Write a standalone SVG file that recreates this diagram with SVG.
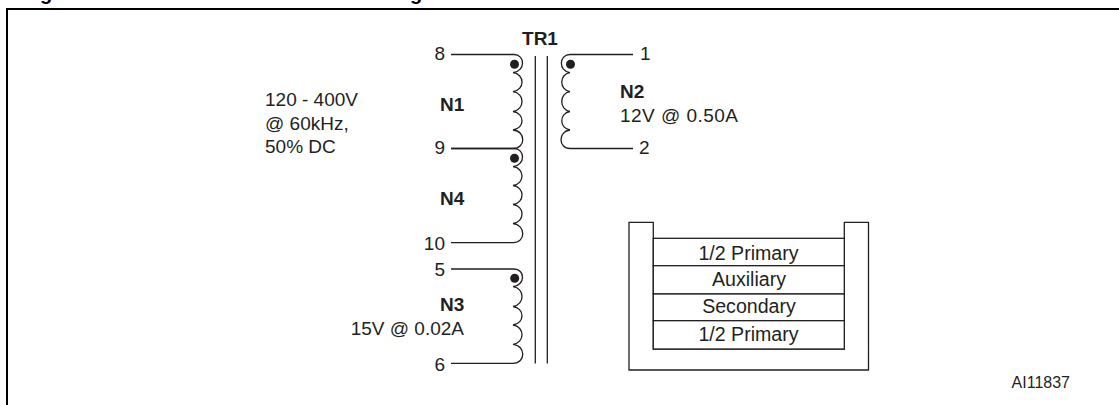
<svg xmlns="http://www.w3.org/2000/svg" width="1119" height="405" viewBox="0 0 1119 405">
<style>
text{font-family:"Liberation Sans",Arial,sans-serif;font-size:19px;fill:#231f20}
.b{font-weight:bold}
.m{text-anchor:middle}
.e{text-anchor:end}
.t{font-size:19.6px}
.w{fill:none;stroke:#231f20;stroke-width:1.3}
.f{fill:none;stroke:#000;stroke-width:2}
.d{fill:#231f20}
.r{fill:#fff;stroke:#231f20;stroke-width:1.3}
</style>
<rect width="1119" height="405" fill="#fff"/>
<g id="frame"><path class="f" d="M7 405V9H1119"/></g>
<g id="title"><text x="46" y="0" class="b m" style="font-size:20px;fill:#000">g</text><text x="416" y="0" class="b m" style="font-size:20px;fill:#000">g</text></g>
<g id="connectors">
<path class="w" d="M451 54.500H514C525 54.500 526 71 513 72.700C525 74 525 90 513 91.700C525 93 525 110 513 111.500C525 113 525 128.500 513 130C526 131 526 148.500 513 148.500H451"/>
<path class="w" d="M451 148.500H514C525 148.500 526 165 513 166.700C525 168 525 184 513 185.500C525 187 525 203 513 204.500C525 206 525 222 513 223.500C526 225 526 242.700 513 242.700H451"/>
<path class="w" d="M451 269H514C525 269 526 285 513 286.700C525 288 525 305 513 306.500C525 308 525 323.500 513 325C525 326.500 525 343 513 344.300C526 345.500 526 363.300 513 363.300H451"/>
<path class="w" d="M633 54.500H570C559 54.500 558 71 570 72.700C559 74 559 90 570 91.700C559 93 559 110 570 111.500C559 113 559 128.500 570 130C558 131 558 148.500 570 148.500H633"/>
<path class="w" d="M535.300 56V363.500M547.300 56V363.500"/>
</g>
<g id="dots">
<circle class="d" cx="514.500" cy="64.300" r="4.500"/>
<circle class="d" cx="570.500" cy="64.300" r="4.500"/>
<circle class="d" cx="514.500" cy="158.300" r="4.500"/>
<circle class="d" cx="514.700" cy="278.300" r="4.500"/>
</g>
<g id="labels">
<text x="540" y="45" class="b m">TR1</text>
<text x="445" y="60" class="e">8</text><text x="445" y="153.500" class="e">9</text><text x="445" y="250" class="e">10</text><text x="445" y="276" class="e">5</text><text x="445" y="370.500" class="e">6</text>
<text x="640" y="60">1</text><text x="639" y="153.500">2</text>
<text x="440" y="111" class="b">N1</text><text x="440" y="204.500" class="b">N4</text><text x="440" y="311" class="b">N3</text>
<text x="620" y="98" class="b">N2</text><text x="620" y="122" textLength="118">12V @ 0.50A</text>
<text x="464" y="335" class="e">15V @ 0.02A</text>
<text x="265" y="106">120 - 400V</text><text x="265" y="130">@ 60kHz,</text><text x="265" y="153">50% DC</text>
<text x="1070" y="388" class="e" style="font-size:16px">AI11837</text>
</g>
<g id="bobbin">
<path class="r" d="M629 222.300H653.300V349H844.300V222.300H868.500V370H629Z"/>
<rect class="r" x="653.300" y="238.300" width="191" height="27.400"/>
<rect class="r" x="653.300" y="265.700" width="191" height="28.300"/>
<rect class="r" x="653.300" y="294" width="191" height="26.700"/>
<rect class="r" x="653.300" y="320.700" width="191" height="28.300"/>
<text x="748.500" y="259.500" class="m t">1/2 Primary</text><text x="749" y="286" class="m t">Auxiliary</text><text x="749" y="313.300" class="m t">Secondary</text><text x="748.500" y="341" class="m t">1/2 Primary</text>
</g>
</svg>
